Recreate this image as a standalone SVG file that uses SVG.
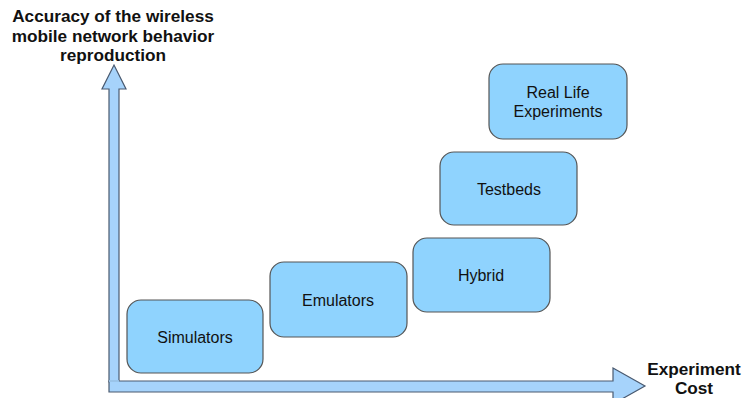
<svg xmlns="http://www.w3.org/2000/svg" width="743" height="398" viewBox="0 0 743 398">
<style>
.box{fill:#8fd3fe;stroke:#555;stroke-width:1.2}
.lbl{font-family:"Liberation Sans",Arial,sans-serif;font-size:16px;fill:#111;text-anchor:middle}
.ax{font-family:"Liberation Sans",Arial,sans-serif;font-size:17.2px;font-weight:bold;fill:#111;text-anchor:middle}
.arr{fill:#a6d3fb;stroke:#4a5a70;stroke-width:1.2}
</style>
<rect width="743" height="398" fill="#fff"/>
<g id="axes">
<path class="arr" d="M109,382 L109,89 L102,89 L114,65 L126,89 L119,89 L119,382 Z"/>
<path class="arr" d="M109,381 L613,381 L613,368 L645,386 L613,404 L613,392 L109,392 Z"/>
<line x1="109" y1="381" x2="119" y2="381" stroke="#a6d3fb" stroke-width="1.5"/>
</g>
<g id="yaxis-label">
<text class="ax" x="113" y="22">Accuracy of the wireless</text>
<text class="ax" x="113" y="42">mobile network behavior</text>
<text class="ax" x="113" y="61">reproduction</text>
</g>
<g id="xaxis-label">
<text class="ax" x="694" y="375">Experiment</text>
<text class="ax" x="694" y="394">Cost</text>
</g>
<g id="simulators"><rect class="box" x="127" y="300" width="136" height="73" rx="14"/><text class="lbl" x="195" y="343">Simulators</text></g>
<g id="emulators"><rect class="box" x="270" y="262" width="137" height="75" rx="14"/><text class="lbl" x="338" y="306">Emulators</text></g>
<g id="hybrid"><rect class="box" x="413" y="238" width="137" height="74" rx="14"/><text class="lbl" x="481" y="281">Hybrid</text></g>
<g id="testbeds"><rect class="box" x="440" y="152" width="137" height="73" rx="14"/><text class="lbl" x="509" y="195">Testbeds</text></g>
<g id="reallife"><rect class="box" x="489" y="64" width="138" height="75" rx="14"/><text class="lbl" x="558" y="98">Real Life</text><text class="lbl" x="558" y="117">Experiments</text></g>
</svg>
